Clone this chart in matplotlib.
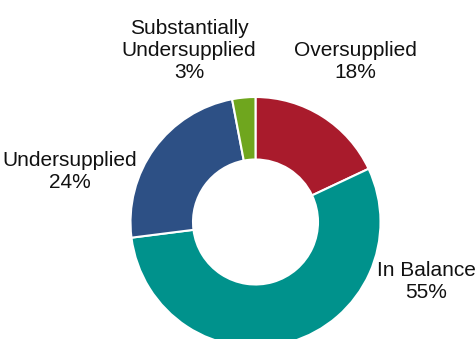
import matplotlib.pyplot as plt
from matplotlib import font_manager

labels = ['Oversupplied', 'In Balance', 'Undersupplied', 'Substantially\nUndersupplied']
shares = [18, 55, 24, 3]
colors = ['#A91B2C', '#00928C', '#2D5085', '#6FA61E']

# label anchor points in pixels (x, y from top)
label_pos = [(355, 62), (426, 281), (70, 172), (189, 50)]

names = {f.name for f in font_manager.fontManager.ttflist}
family = 'Liberation Sans Narrow' if 'Liberation Sans Narrow' in names else 'Liberation Sans'

W, H = 475, 339
fig = plt.figure(figsize=(W / 100, H / 100), dpi=100)
ax = fig.add_axes([0, 0, 1, 1])

cx, cy, r = 255.5, H - 222, 125
ax.pie(shares, colors=colors, startangle=90, counterclock=False,
       center=(cx, cy), radius=r, frame=True,
       wedgeprops=dict(width=r * 0.5, edgecolor='white', linewidth=1.5))
ax.set_xlim(0, W)
ax.set_ylim(0, H)
ax.set_aspect('equal')
ax.axis('off')

for lab, val, (px, py) in zip(labels, shares, label_pos):
    ax.text(px, H - py, f'{lab}\n{val}%', ha='center', va='center',
            multialignment='center', fontsize=15, family=family,
            color='#111111', linespacing=1.2)

fig.savefig('out.png', dpi=100)
